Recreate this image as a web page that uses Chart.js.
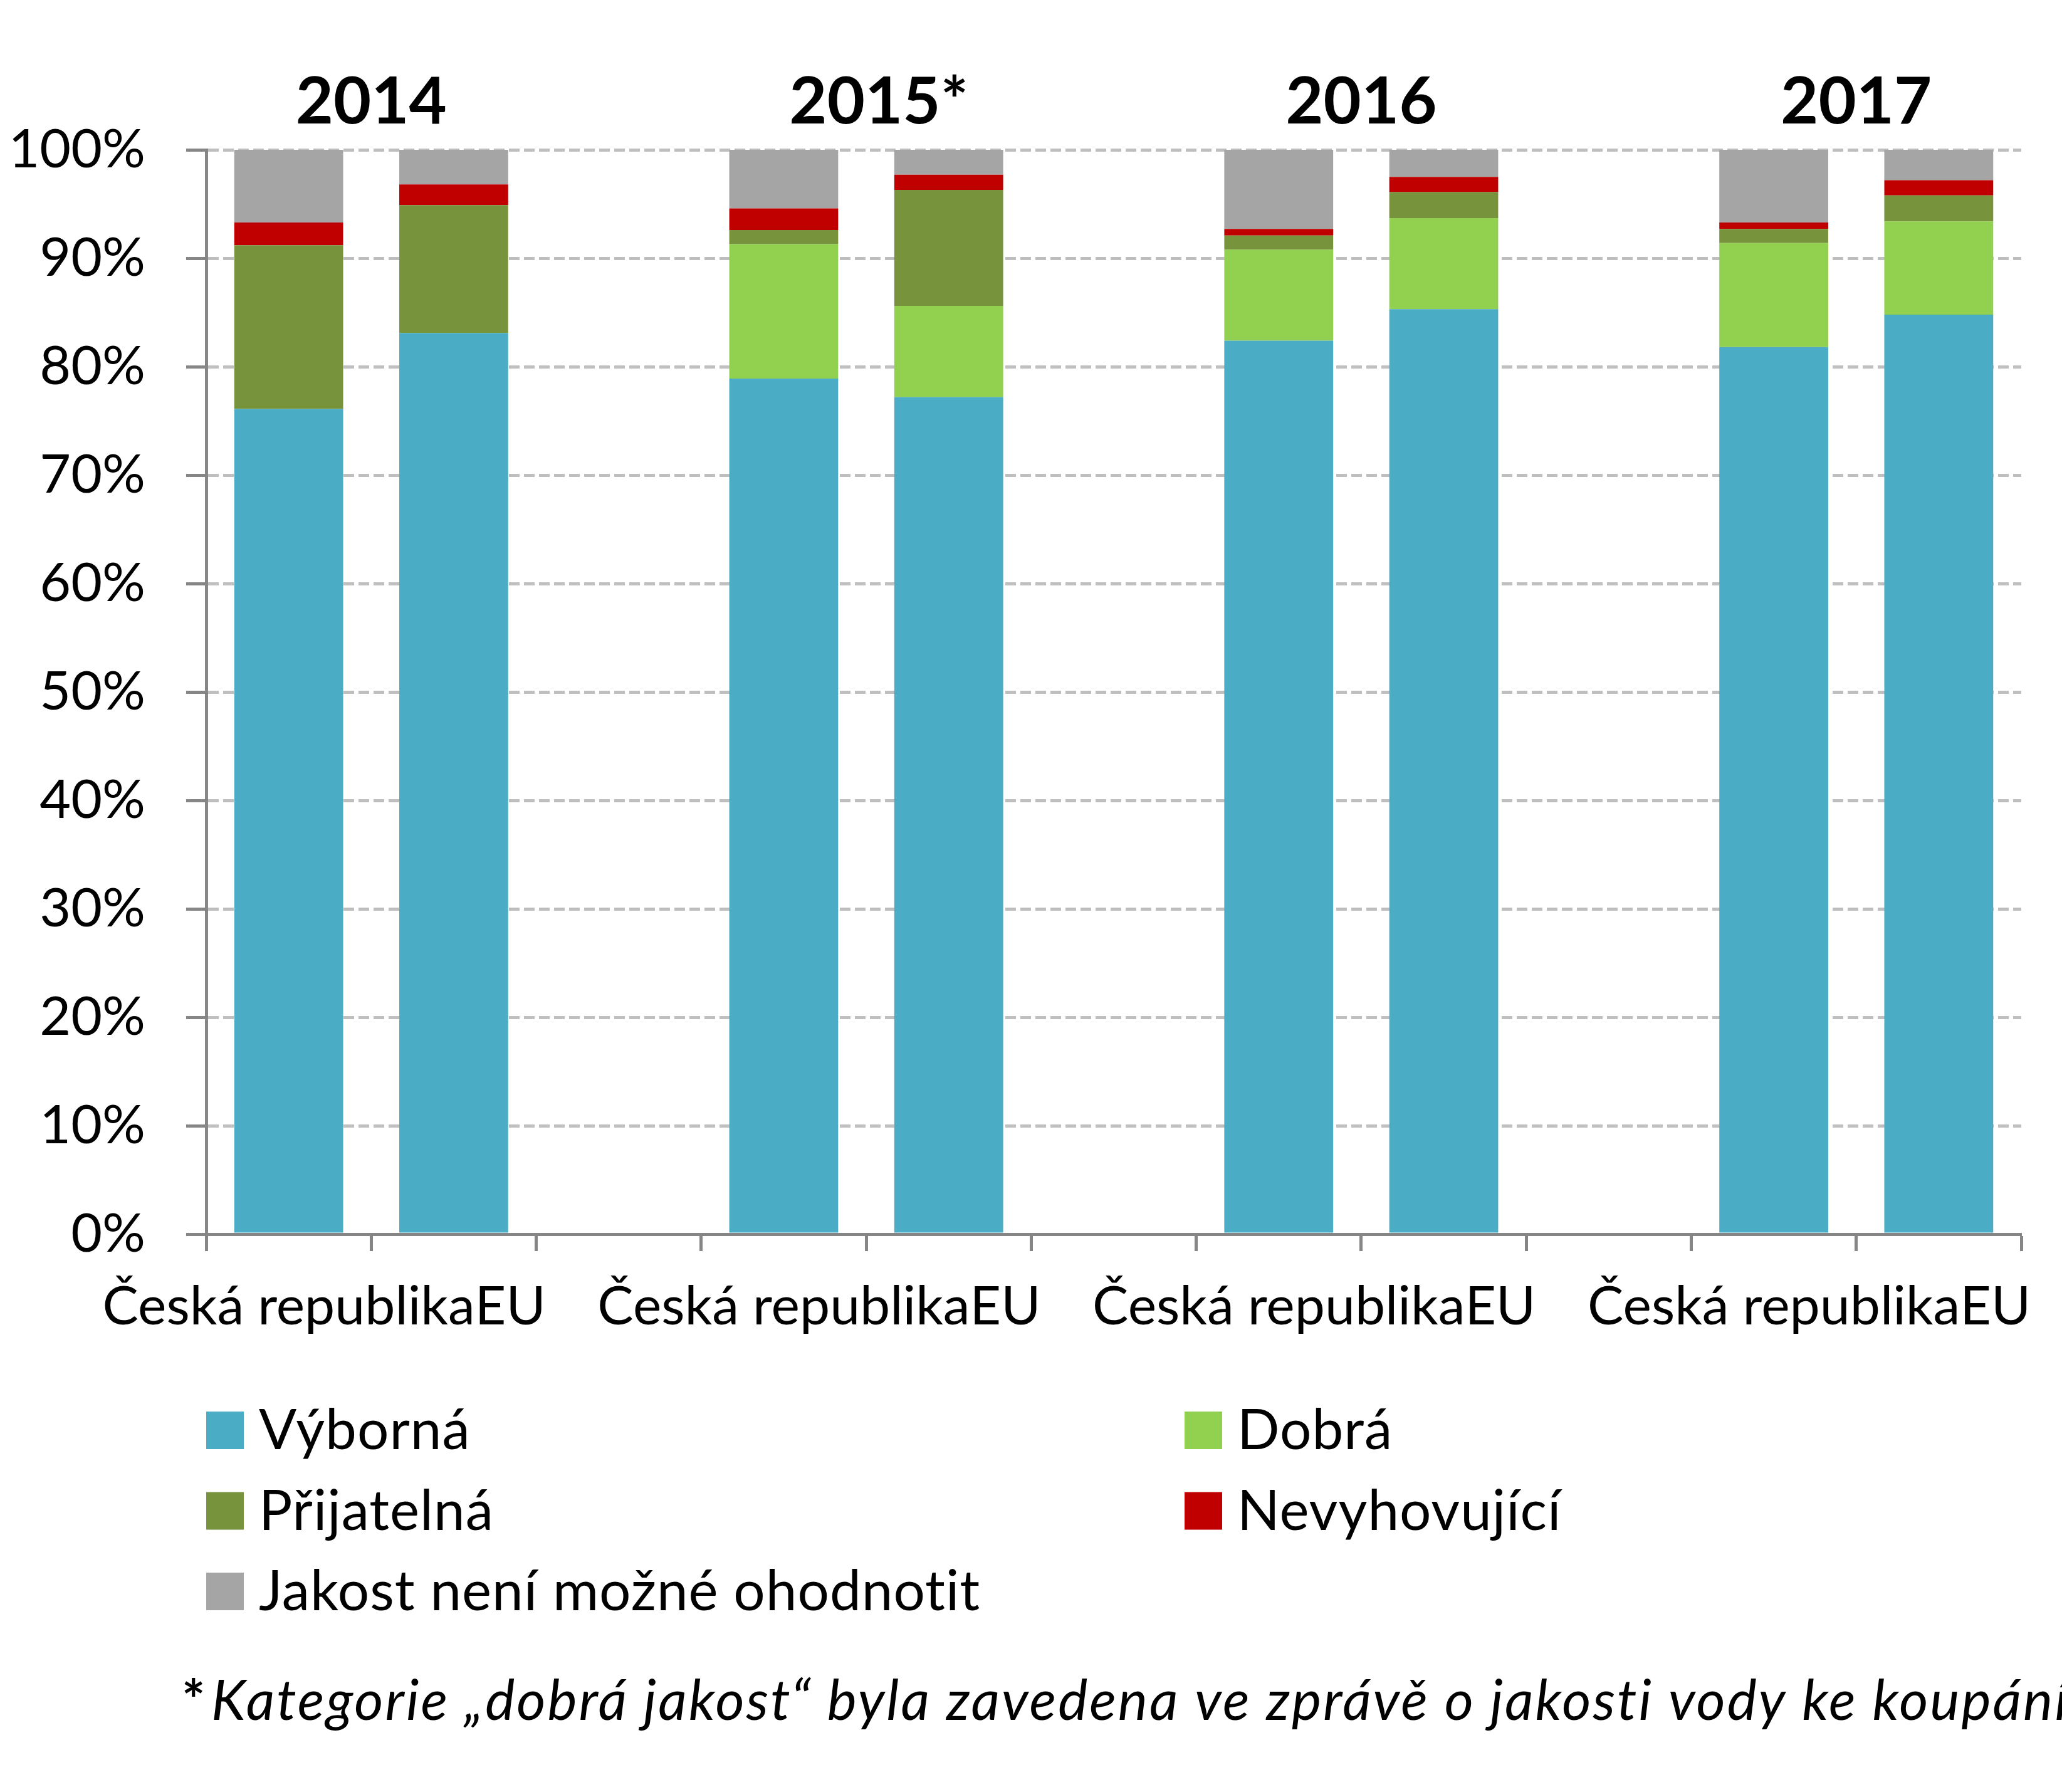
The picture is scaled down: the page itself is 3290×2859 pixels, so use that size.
<!DOCTYPE html>
<html>
<head>
<meta charset="utf-8">
<script src="https://cdn.jsdelivr.net/npm/chart.js"></script>
<style>
  html, body { margin: 0; padding: 0; background: #fff; overflow: hidden; }
  canvas { display: block; }
</style>
</head>
<body>
<canvas id="bathing_quality" width="3290" height="2859"></canvas>
<script>
window.onload = init;

const categories = ["Česká republika", "EU", "", "Česká republika", "EU", "", "Česká republika", "EU", "", "Česká republika", "EU"];
const years = ["2014", "2015*", "2016", "2017"];

// % of bathing waters, bottom to top of each stack
const vyborna = [76.1, 83.1, null, 78.9, 77.2, null, 82.4, 85.3, null, 81.8, 84.8];
const dobra = [0, 0, null, 12.4, 8.4, null, 8.4, 8.4, null, 9.6, 8.6];
const prijatelna = [15.1, 11.8, null, 1.3, 10.7, null, 1.3, 2.4, null, 1.3, 2.4];
const nevyhovujici = [2.1, 1.9, null, 2.0, 1.4, null, 0.6, 1.4, null, 0.6, 1.4];
const jakostNelze = [6.7, 3.2, null, 5.4, 2.3, null, 7.3, 2.5, null, 6.7, 2.8];

const seriesNames = ["Výborná", "Dobrá", "Přijatelná", "Nevyhovující", "Jakost není možné ohodnotit"];
const seriesColors = ["#4BACC6", "#92D050", "#77933C", "#C00000", "#A5A5A5"];
const yTicks = [0, 10, 20, 30, 40, 50, 60, 70, 80, 90, 100];

const footnoteMark = "*";
const footnote = "Kategorie „dobrá jakost“ byla zavedena ve zprávě o jakosti vody ke koupání";

const FONT = "Lato";
const AXIS_GREY = "#868686";

function getDatasets() {
  let values = [vyborna, dobra, prijatelna, nevyhovujici, jakostNelze];
  return values.map(function (v, i) {
    return {
      label: seriesNames[i],
      data: v,
      backgroundColor: seriesColors[i],
      borderWidth: 0,
      barPercentage: 0.66,
      categoryPercentage: 1.0,
    };
  });
}

const overlay = {
  id: "overlay",
  afterDraw(chart) {
    const ctx = chart.ctx;
    const x = chart.scales.x;
    ctx.save();
    ctx.fillStyle = "#000";

    // year headers above each pair of bars
    ctx.font = "bold 104px " + FONT;
    ctx.textAlign = "center";
    ctx.textBaseline = "alphabetic";
    years.forEach(function (y, i) {
      let cx = (x.getPixelForValue(i * 3) + x.getPixelForValue(i * 3 + 1)) / 2;
      if (y.endsWith("*")) cx += 20;
      ctx.fillText(y, cx, 197);
    });

    // category labels, EU label runs on right after the CR label
    ctx.font = "86px " + FONT;
    ctx.textAlign = "left";
    let lastEnd = 0;
    categories.forEach(function (c, i) {
      if (!c) return;
      let w = ctx.measureText(c).width;
      let left = x.getPixelForValue(i) - w / 2;
      if (c === "EU") left = lastEnd;
      ctx.fillText(c, left, 2113);
      lastEnd = left + w;
    });

    // legend in two columns
    const colX = [329, 1890];
    ctx.font = "89px " + FONT;
    ctx.letterSpacing = "1px";
    chart.data.datasets.forEach(function (ds, i) {
      let col = i % 2;
      let row = Math.floor(i / 2);
      let top = 2252 + row * 128.5;
      ctx.fillStyle = ds.backgroundColor;
      ctx.fillRect(colX[col], top, 60, 60);
      ctx.fillStyle = "#000";
      ctx.fillText(ds.label, colX[col] + 84, top + 60);
    });

    // footnote
    ctx.letterSpacing = "0px";
    ctx.font = "bold 88px " + FONT;
    ctx.fillText(footnoteMark, 290, 2744);
    ctx.font = "italic 89px " + FONT;
    ctx.letterSpacing = "3px";
    ctx.fillText(footnote, 337, 2744);
    ctx.restore();
  },
};

function init() {
  const ctx = document.getElementById("bathing_quality");

  new Chart(ctx, {
    type: "bar",
    data: { labels: categories, datasets: getDatasets() },
    plugins: [overlay],
    options: {
      responsive: false,
      animation: false,
      devicePixelRatio: 1,
      layout: { padding: { top: 239, right: 65, left: 0, bottom: 0 } },
      plugins: {
        legend: { display: false },
        tooltip: { enabled: false },
      },
      scales: {
        x: {
          stacked: true,
          offset: true,
          ticks: { display: false },
          grid: {
            offset: true,
            drawOnChartArea: false,
            drawTicks: true,
            tickLength: 27,
            tickColor: AXIS_GREY,
            tickWidth: 5,
          },
          border: { display: true, color: AXIS_GREY, width: 5, z: 1 },
          afterFit: function (scale) {
            scale.height = 890;
          },
        },
        y: {
          stacked: true,
          min: 0,
          max: 100,
          afterBuildTicks: function (scale) {
            scale.ticks = yTicks.map(function (v) { return { value: v }; });
          },
          ticks: {
            padding: 65,
            color: "#000",
            font: { family: FONT, size: 86 },
            callback: function (v) { return v + "%"; },
          },
          grid: {
            color: "#BFBFBF",
            lineWidth: 5,
            tickLength: 32,
            tickColor: AXIS_GREY,
            tickWidth: 5,
          },
          border: { display: true, color: AXIS_GREY, width: 5, dash: [17, 7] },
          afterFit: function (scale) {
            scale.width = 329;
          },
        },
      },
    },
  });
}
</script>
</body>
</html>
